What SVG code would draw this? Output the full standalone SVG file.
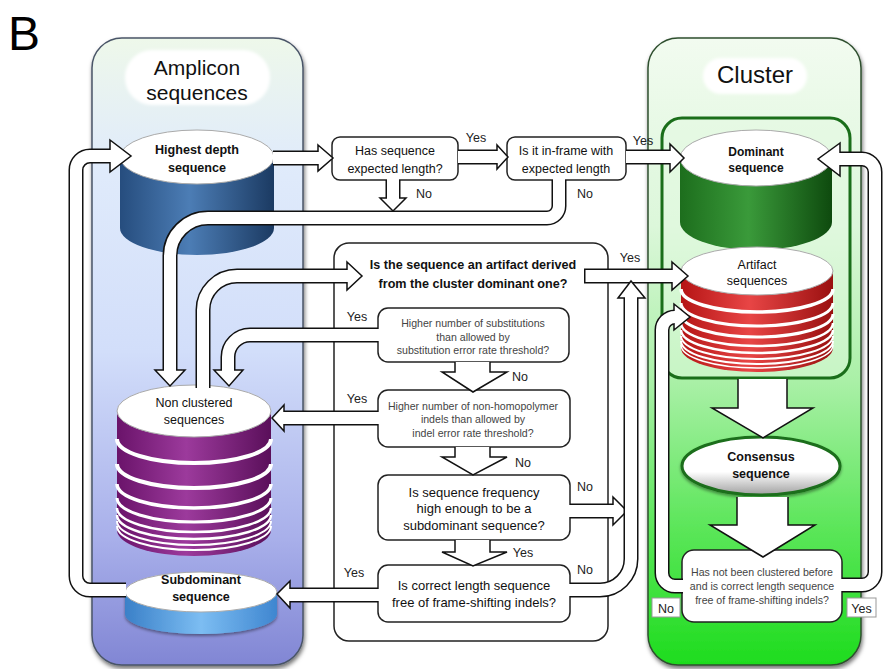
<svg xmlns="http://www.w3.org/2000/svg" width="884" height="669" viewBox="0 0 884 669">
<defs>
<linearGradient id="gLeft" x1="0" y1="0" x2="0" y2="1">
<stop offset="0" stop-color="#eef8ea"/><stop offset="0.2" stop-color="#e0ebfb"/><stop offset="0.5" stop-color="#d2defa"/><stop offset="0.8" stop-color="#a8afea"/><stop offset="1" stop-color="#8186d4"/>
</linearGradient>
<linearGradient id="gRight" x1="0" y1="0" x2="0" y2="1">
<stop offset="0" stop-color="#f2fbf0"/><stop offset="0.3" stop-color="#dcf7da"/><stop offset="0.55" stop-color="#a9f0a6"/><stop offset="0.78" stop-color="#5ce65a"/><stop offset="1" stop-color="#1edc1e"/>
</linearGradient>
<linearGradient id="gBlue" x1="0" y1="0" x2="1" y2="0"><stop offset="0" stop-color="#264d7e"/><stop offset="0.45" stop-color="#4c7db5"/><stop offset="1" stop-color="#1b3a62"/></linearGradient>
<linearGradient id="gGreen" x1="0" y1="0" x2="1" y2="0"><stop offset="0" stop-color="#1d6e1d"/><stop offset="0.45" stop-color="#3a9a3a"/><stop offset="1" stop-color="#0e4a0e"/></linearGradient>
<linearGradient id="gPurple" x1="0" y1="0" x2="1" y2="0"><stop offset="0" stop-color="#6a136a"/><stop offset="0.45" stop-color="#9c3a9c"/><stop offset="1" stop-color="#5a0f5a"/></linearGradient>
<linearGradient id="gRed" x1="0" y1="0" x2="1" y2="0"><stop offset="0" stop-color="#b51515"/><stop offset="0.45" stop-color="#e84545"/><stop offset="1" stop-color="#9a1010"/></linearGradient>
<linearGradient id="gLBlue" x1="0" y1="0" x2="1" y2="0"><stop offset="0" stop-color="#3a80c8"/><stop offset="0.5" stop-color="#7cbdf2"/><stop offset="1" stop-color="#3f86d0"/></linearGradient>
<linearGradient id="gCons" x1="0" y1="0" x2="0" y2="1"><stop offset="0" stop-color="#fff"/><stop offset="0.6" stop-color="#fff"/><stop offset="1" stop-color="#a0a0a0"/></linearGradient>
<filter id="sh" x="-10%" y="-10%" width="120%" height="120%"><feDropShadow dx="1" dy="3" stdDeviation="2" flood-color="#000" flood-opacity="0.55"/></filter>
<filter id="sh2" x="-10%" y="-20%" width="120%" height="140%"><feDropShadow dx="0" dy="2" stdDeviation="1.5" flood-color="#000" flood-opacity="0.4"/></filter>
<filter id="soft" x="-10%" y="-20%" width="120%" height="140%"><feGaussianBlur stdDeviation="1.5"/></filter>
<style>
.tO{fill:none;stroke:#111;stroke-width:15}
.tI{fill:none;stroke:#fff;stroke-width:12}
.hd{fill:#fff;stroke:#111;stroke-width:1.5;stroke-linejoin:miter}
.box{fill:#fff;stroke:#222;stroke-width:1.5}
.top{fill:#fff;stroke:#aaa;stroke-width:1}
.strp{fill:none;stroke:#fff}
.t{font-family:"Liberation Sans",Arial,sans-serif;text-anchor:middle;fill:#111}
.lbl{font-size:12.5px;fill:#222}
.b{font-weight:bold}
.sm{font-size:10.6px;fill:#444}
</style>
</defs>

<text x="8" y="50" font-family="Liberation Sans, Arial, sans-serif" font-size="48" fill="#000">B</text>

<g id="panel-amplicon">
<rect x="92" y="38" width="211" height="627" rx="30" fill="url(#gLeft)" stroke="#4a5568" stroke-width="1.5" filter="url(#sh)"/>
<rect x="125" y="50" width="145" height="55" rx="27" fill="#fff" filter="url(#soft)"/>
<text class="t" x="197" y="75" font-size="21" fill="#222">Amplicon</text>
<text class="t" x="197" y="100" font-size="21" fill="#222">sequences</text>
</g>

<g id="panel-cluster">
<rect x="648" y="38" width="213" height="627" rx="30" fill="url(#gRight)" stroke="#2f4f2f" stroke-width="1.5" filter="url(#sh)"/>
<rect x="703" y="58" width="104" height="36" rx="18" fill="#fff" filter="url(#soft)"/>
<text class="t" x="755" y="83" font-size="24" fill="#222">Cluster</text>
<rect x="662" y="118" width="188" height="260" rx="20" fill="#e4f9e2" fill-opacity="0.5" stroke="#1a6e1a" stroke-width="3"/>
</g>

<g id="container-artifact">
<rect x="334" y="243" width="274" height="398" rx="15" fill="#fff" stroke="#222" stroke-width="1.5"/>
<text class="t b" x="473" y="269" font-size="12.6">Is the sequence an artifact derived</text>
<text class="t b" x="473" y="288" font-size="12.6">from the cluster dominant one?</text>
</g>

<g id="node-highest">
<path d="M120 157 V228 A77 27 0 0 0 274 228 V157 Z" fill="url(#gBlue)"/>
<ellipse class="top" cx="197" cy="157" rx="77" ry="27"/>
<text class="t b" x="197" y="154" font-size="12.6">Highest depth</text>
<text class="t b" x="197" y="172" font-size="12.6">sequence</text>
</g>

<g id="node-dominant">
<path d="M680 158 V222 A76 28 0 0 0 832 222 V158 Z" fill="url(#gGreen)"/>
<ellipse class="top" cx="756" cy="158" rx="76" ry="28"/>
<text class="t b" x="756" y="156" font-size="12">Dominant</text>
<text class="t b" x="756" y="172" font-size="12">sequence</text>
</g>

<g id="node-artifact">
<path d="M681 271 V348 A76 24 0 0 0 833 348 V271 Z" fill="url(#gRed)"/>
<path class="strp" stroke-width="3.5" d="M681 289 A76 23 0 0 0 833 289"/>
<path class="strp" stroke-width="3" d="M681 303 A76 23 0 0 0 833 303"/>
<path class="strp" stroke-width="3" d="M681 314 A76 23 0 0 0 833 314"/>
<path class="strp" stroke-width="2.5" d="M681 323 A76 23 0 0 0 833 323"/>
<path class="strp" stroke-width="2.5" d="M681 330 A76 23 0 0 0 833 330"/>
<path class="strp" stroke-width="2" d="M681 336 A76 23 0 0 0 833 336"/>
<path class="strp" stroke-width="2" d="M681 341 A76 23 0 0 0 833 341"/>
<path class="strp" stroke-width="1.5" d="M681 345 A76 23 0 0 0 833 345"/>
<ellipse class="top" cx="757" cy="271" rx="76" ry="24"/>
<text class="t" x="757" y="269" font-size="12.5" fill="#333">Artifact</text>
<text class="t" x="757" y="285" font-size="12.5" fill="#333">sequences</text>
</g>

<g id="node-nonclustered">
<path d="M117 411 V530 A77 26 0 0 0 271 530 V411 Z" fill="url(#gPurple)"/>
<path class="strp" stroke-width="4" d="M117 439 A77 24 0 0 0 271 439"/>
<path class="strp" stroke-width="4" d="M117 464 A77 24 0 0 0 271 464"/>
<path class="strp" stroke-width="3.5" d="M117 484 A77 24 0 0 0 271 484"/>
<path class="strp" stroke-width="3" d="M117 498 A77 24 0 0 0 271 498"/>
<path class="strp" stroke-width="2.5" d="M117 508 A77 24 0 0 0 271 508"/>
<path class="strp" stroke-width="2.5" d="M117 515 A77 24 0 0 0 271 515"/>
<path class="strp" stroke-width="2" d="M117 521 A77 24 0 0 0 271 521"/>
<path class="strp" stroke-width="2" d="M117 526 A77 24 0 0 0 271 526"/>
<ellipse class="top" cx="194" cy="411" rx="77" ry="26"/>
<text class="t" x="194" y="407" font-size="12.5" fill="#333">Non clustered</text>
<text class="t" x="194" y="424" font-size="12.5" fill="#333">sequences</text>
</g>

<g id="node-subdominant">
<path d="M125 592 V614 A76 20 0 0 0 277 614 V592 Z" fill="url(#gLBlue)" filter="url(#sh2)"/>
<ellipse class="top" cx="201" cy="592" rx="76" ry="20" stroke="#666"/>
<text class="t b" x="201" y="584" font-size="12.5" fill="#222">Subdominant</text>
<text class="t b" x="201" y="601" font-size="12.5" fill="#222">sequence</text>
</g>

<g id="node-consensus">
<ellipse cx="761" cy="466" rx="79" ry="29" fill="url(#gCons)" stroke="#1a6e1a" stroke-width="3" filter="url(#sh2)"/>
<text class="t b" x="761" y="461" font-size="12.5" fill="#222">Consensus</text>
<text class="t b" x="761" y="478" font-size="12.5" fill="#222">sequence</text>
</g>

<g id="q-length"><rect class="box" x="332" y="137" width="126" height="43" rx="8"/>
<text class="t" x="395" y="154.5" font-size="12.5">Has sequence</text>
<text class="t" x="395" y="172.5" font-size="12.5">expected length?</text></g>

<g id="q-inframe"><rect class="box" x="507" y="137" width="119" height="43" rx="8"/>
<text class="t" x="566" y="154.5" font-size="12.5">Is it in-frame with</text>
<text class="t" x="566" y="172.5" font-size="12.5">expected length</text></g>

<g id="q-subst"><rect class="box" x="378" y="308" width="191" height="54" rx="10"/>
<text class="t sm" x="473" y="327">Higher number of substitutions</text>
<text class="t sm" x="473" y="341">than allowed by</text>
<text class="t sm" x="473" y="354">substitution error rate threshold?</text></g>

<g id="q-indel"><rect class="box" x="378" y="390" width="192" height="57" rx="10"/>
<text class="t sm" x="473" y="410">Higher number of non-homopolymer</text>
<text class="t sm" x="473" y="423">indels than allowed by</text>
<text class="t sm" x="473" y="437">indel error rate threshold?</text></g>

<g id="q-freq"><rect class="box" x="378" y="475" width="192" height="65" rx="10"/>
<text class="t" x="474" y="496.5" font-size="13">Is sequence frequency</text>
<text class="t" x="474" y="513" font-size="13">high enough to be a</text>
<text class="t" x="474" y="529.5" font-size="13">subdominant sequence?</text></g>

<g id="q-correct"><rect class="box" x="378" y="565" width="192" height="57" rx="10"/>
<text class="t" x="474" y="589.5" font-size="13">Is correct length sequence</text>
<text class="t" x="474" y="606.5" font-size="13">free of frame-shifting indels?</text></g>

<g id="q-clustered"><rect class="box" x="682" y="550" width="160" height="72" rx="12"/>
<text class="t sm" x="762" y="576" font-size="10.5">Has not been clustered before</text>
<text class="t sm" x="762" y="590" font-size="10.5">and is correct length sequence</text>
<text class="t sm" x="762" y="604" font-size="10.5">free of frame-shifting indels?</text></g>

<g id="connectors">
<path class="tO" d="M126 590 H90 A14 14 0 0 1 76 576 V170 A14 14 0 0 1 90 156 H114"/>
<polygon class="hd" points="110,140 131,156 110,172"/>
<path class="tI" d="M126 590 H90 A14 14 0 0 1 76 576 V170 A14 14 0 0 1 90 156 H114"/>
<path class="tO" d="M273 158 H321"/><polygon class="hd" points="318,145 333,158 318,171"/><path class="tI" d="M273 158 H321"/>
<path class="tO" d="M458 157 H500"/><polygon class="hd" points="497,145 508,157 497,169"/><path class="tI" d="M458 157 H500"/>
<path class="tO" d="M626 157 H673"/><polygon class="hd" points="670,144 684,158 670,172"/><path class="tI" d="M626 157 H673"/>
<path class="tO" d="M559 180 V206 A12 12 0 0 1 547 218 H208 A38 38 0 0 0 170 256 V373"/>
<polygon class="hd" points="155,370 170,386 185,370"/>
<path class="tI" d="M559 179 V206 A12 12 0 0 1 547 218 H208 A38 38 0 0 0 170 256 V373"/>
<path class="tO" d="M393 180 V201"/><polygon class="hd" points="380,198 393,211 406,198"/><path class="tI" d="M393 179 V201"/>
<path class="tO" d="M203 388 V310 A34 34 0 0 1 237 276 H350"/>
<polygon class="hd" points="347,262 362,276 347,290"/>
<path class="tI" d="M203 389 V310 A34 34 0 0 1 237 276 H350"/>
<path class="tO" d="M378 335 H250 A22 22 0 0 0 228 357 V373"/>
<polygon class="hd" points="214,370 229,386 243,370"/>
<path class="tI" d="M379 335 H250 A22 22 0 0 0 228 357 V373"/>
<path class="tO" d="M378 418 H281"/><polygon class="hd" points="284,405 272,418 284,431"/><path class="tI" d="M379 418 H281"/>
<path class="hd" d="M455 362 V372 H442 L473 392 L507 372 H490 V362"/>
<path class="hd" d="M455 447 V457 H442 L473 475 L507 457 H490 V447"/>
<path class="hd" d="M455 540 V552 H442 L473 566 L507 552 H490 V540"/>
<path class="tO" d="M570 511 H616"/><polygon class="hd" points="613,497 627,511 613,525"/><path class="tI" d="M569 511 H616"/>
<path class="tO" d="M378 595 H287"/><polygon class="hd" points="290,581 277,594 290,608"/><path class="tI" d="M379 595 H287"/>
<path class="tO" d="M584 276 H675"/><polygon class="hd" points="672,262 688,276 672,290"/><path class="tI" d="M585.5 276 H675"/>
<path class="tO" d="M570 590 H600 A31 31 0 0 0 631 559 V295"/>
<polygon class="hd" points="618,298 631,281 645,298"/>
<path class="tI" d="M569 590 H600 A31 31 0 0 0 631 559 V295"/>
<path class="tO" d="M683 586 H675 A13 13 0 0 1 662 573 V330 A13 13 0 0 1 675 317 H677"/>
<polygon class="hd" points="674,304 690,317 674,330"/>
<path class="tI" d="M684 586 H675 A13 13 0 0 1 662 573 V330 A13 13 0 0 1 675 317 H677"/>
<path class="tO" d="M842 585 H862 A13 13 0 0 0 875 572 V172 A13 13 0 0 0 862 159 H837"/>
<polygon class="hd" points="840,143 818,159 840,176"/>
<path class="tI" d="M841 585 H862 A13 13 0 0 0 875 572 V172 A13 13 0 0 0 862 159 H837"/>
<path class="hd" d="M738 379 V408 H712 L763 438 L813 408 H787 V379"/>
<path class="hd" d="M737 497 V525 H710 L763 557 L815 525 H788 V497"/>
</g>

<g id="labels">
<text class="t lbl" x="476" y="142">Yes</text>
<text class="t lbl" x="424" y="198" font-size="13">No</text>
<text class="t lbl" x="585" y="198" font-size="13">No</text>
<text class="t lbl" x="643" y="145">Yes</text>
<text class="t lbl" x="630" y="262">Yes</text>
<text class="t lbl" x="357" y="321">Yes</text>
<text class="t lbl" x="520" y="381" font-size="13">No</text>
<text class="t lbl" x="357" y="403">Yes</text>
<text class="t lbl" x="523" y="467" font-size="13">No</text>
<text class="t lbl" x="585" y="491" font-size="13">No</text>
<text class="t lbl" x="523" y="557">Yes</text>
<text class="t lbl" x="354" y="577">Yes</text>
<text class="t lbl" x="585" y="574" font-size="13">No</text>
<rect x="652" y="598" width="28" height="19" fill="#fff" stroke="#999" stroke-width="1"/>
<text class="t lbl" x="666" y="612.5" font-size="13">No</text>
<rect x="847" y="598" width="29" height="19" fill="#fff" stroke="#999" stroke-width="1"/>
<text class="t lbl" x="861.5" y="612.5" font-size="13">Yes</text>
</g>
</svg>
